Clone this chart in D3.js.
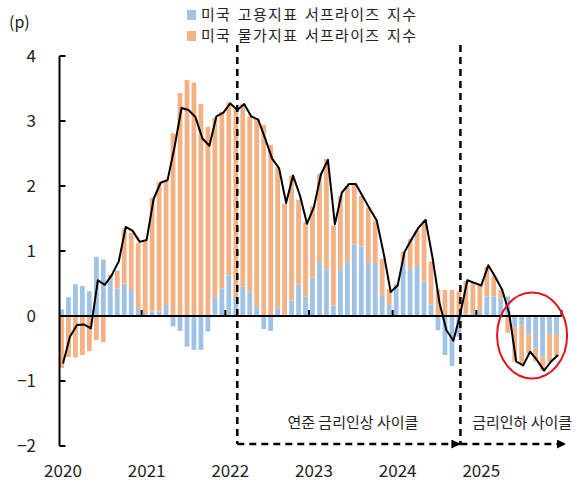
<!DOCTYPE html>
<html>
<head>
<meta charset="utf-8">
<script src="https://d3js.org/d3.v7.min.js"></script>
<style>
body { margin: 0; background: #fff; }
svg { font-family: 'Noto Sans CJK KR', 'Noto Sans', sans-serif; }
.axis-label { font-size: 17px; fill: #222; }
.legend-text { font-size: 15px; fill: #222; }
.note { font-size: 15px; fill: #222; }
</style>
</head>
<body>
<svg id="chart"></svg>
<script>
var width = 584,
    height = 491;

// monthly, Jan 2020 - Dec 2025
var startYear = 2020, endYear = 2025;
var years = [2020, 2021, 2022, 2023, 2024, 2025];
var yTicks = [4, 3, 2, 1, 0, -1, -2];

// 미국 고용지표 서프라이즈 지수
var employment = [
  0.10, 0.29, 0.49, 0.46, 0.38, 0.91, 0.87, 0.55, 0.42, 0.50, 0.40, 0.12,
  0.03, 0.07, 0.07, 0.17, -0.16, -0.23, -0.47, -0.52, -0.52, -0.24, 0.28, 0.42,
  0.62, 0.29, 0.45, 0.38, 0.14, -0.20, -0.23, 0.11, 0.02, 0.24, 0.48, 0.30,
  0.59, 0.83, 0.72, 0.16, 0.71, 0.83, 1.10, 1.07, 0.83, 0.80, 0.31, 0.17,
  0.46, 0.83, 0.71, 0.77, 0.53, 0.18, -0.22, -0.60, -0.77, -0.32, 0.04, 0.03,
  0.09, 0.30, 0.30, 0.27, 0.30, -0.18, -0.15, -0.28, -0.50, -0.62, -0.28, -0.28
];

// 미국 물가지표 서프라이즈 지수
var prices = [
  -0.80, -0.63, -0.64, -0.60, -0.54, -0.37, -0.40, 0.08, 0.28, 0.85, 0.88, 1.00,
  1.14, 1.75, 1.99, 1.92, 2.81, 3.43, 3.63, 3.59, 3.26, 2.91, 2.77, 2.72,
  2.67, 2.88, 2.81, 2.69, 2.90, 2.94, 2.63, 2.18, 1.71, 1.92, 1.31, 1.15,
  1.10, 1.36, 1.70, 1.23, 1.14, 1.17, 0.92, 0.78, 0.84, 0.67, 0.57, 0.24,
  0.03, 0.16, 0.47, 0.55, 0.94, 0.66, 0.41, 0.40, 0.40, 0.38, 0.50, 0.48,
  0.38, 0.46, 0.32, 0.13, -0.26, -0.52, -0.60, -0.30, -0.20, -0.22, -0.43, -0.33
];

// 합계 (black line)
var total = [
  -0.73, -0.32, -0.14, -0.13, -0.19, 0.55, 0.48, 0.63, 0.84, 1.37, 1.31, 1.14,
  1.17, 1.80, 2.05, 2.09, 2.60, 3.20, 3.17, 3.06, 2.73, 2.62, 3.07, 3.13,
  3.27, 3.17, 3.26, 3.07, 3.02, 2.73, 2.42, 2.27, 1.74, 2.16, 1.85, 1.42,
  1.68, 2.18, 2.40, 1.41, 1.90, 2.03, 2.03, 1.84, 1.65, 1.47, 0.96, 0.37,
  0.47, 0.99, 1.18, 1.36, 1.48, 0.90, 0.20, -0.22, -0.38, 0.04, 0.55, 0.51,
  0.47, 0.78, 0.60, 0.40, 0.04, -0.70, -0.76, -0.55, -0.68, -0.84, -0.70, -0.60
];

var seriesNames = ['미국 고용지표 서프라이즈 지수', '미국 물가지표 서프라이즈 지수'];
var colors = ['#9fc3e7', '#f4b183'];

// rate cycle markers (month index) and labels
var hikeStart = '2022-02', cutStart = '2024-10';
var cycleLabels = ['연준 금리인상 사이클', '금리인하 사이클'];

var months = d3.timeMonths(new Date(startYear, 0, 1), new Date(endYear + 1, 0, 1));
var fmt = d3.timeFormat('%Y-%m');
var rows = months.map(function(m, i) {
  return { month: fmt(m), emp: employment[i], price: prices[i], total: total[i] };
});

var plot = { left: 59.5, right: 561.5, top: 56, bottom: 446 };

var x = d3.scaleBand()
  .domain(rows.map(function(d) { return d.month; }))
  .range([plot.left, plot.right])
  .paddingInner(0.32)
  .paddingOuter(0.16);

var xMid = function(m) { return x(m) + x.bandwidth() / 2; };

var y = d3.scaleLinear()
  .domain([-2, 4])
  .range([plot.bottom, plot.top]);

var svg = d3.select('#chart')
  .attr('width', width)
  .attr('height', height);

// stacked bars, positives and negatives stacked apart
var stack = d3.stack()
  .keys(['emp', 'price'])
  .offset(d3.stackOffsetDiverging);
var layers = stack(rows);

svg.append('g')
  .selectAll('g')
  .data(layers)
  .enter().append('g')
    .attr('fill', function(d, i) { return colors[i]; })
  .selectAll('rect')
  .data(function(d) { return d; })
  .enter().append('rect')
    .attr('x', function(d) { return x(d.data.month) - 1.5; })
    .attr('width', x.bandwidth())
    .attr('y', function(d) { return y(Math.max(d[0], d[1])); })
    .attr('height', function(d) { return Math.abs(y(d[0]) - y(d[1])); });

// y axis
var yAxis = svg.append('g');
yAxis.append('line')
  .attr('x1', plot.left).attr('x2', plot.left)
  .attr('y1', y(4)).attr('y2', y(-2))
  .attr('stroke', '#000').attr('stroke-width', 2);
yAxis.selectAll('.ytick')
  .data(yTicks)
  .enter().append('line')
    .attr('x1', plot.left).attr('x2', plot.left + 6)
    .attr('y1', function(d) { return y(d); })
    .attr('y2', function(d) { return y(d); })
    .attr('stroke', '#000').attr('stroke-width', 2);
yAxis.selectAll('text')
  .data(yTicks)
  .enter().append('text')
    .attr('class', 'axis-label')
    .attr('x', 36)
    .attr('y', function(d) { return y(d); })
    .attr('dy', '0.35em')
    .attr('text-anchor', 'end')
    .text(function(d) { return d < 0 ? '\u2212' + Math.abs(d) : d; });

svg.append('text')
  .attr('class', 'legend-text')
  .attr('x', 9).attr('y', 28)
  .style('font-size', '16px')
  .text('(p)');

// x axis at zero
var xAxis = svg.append('g');
xAxis.append('line')
  .attr('x1', plot.left).attr('x2', plot.right)
  .attr('y1', y(0)).attr('y2', y(0))
  .attr('stroke', '#000').attr('stroke-width', 2);
var yearEdges = years.map(function(yr) { return yr + '-01'; });
xAxis.selectAll('.xtick')
  .data(yearEdges.slice(1).map(function(m) { return x(m) - x.step() * x.paddingInner() / 2 - 1.5; }).concat([plot.right]))
  .enter().append('line')
    .attr('x1', function(d) { return d; }).attr('x2', function(d) { return d; })
    .attr('y1', y(0)).attr('y2', y(0) - 6)
    .attr('stroke', '#000').attr('stroke-width', 2);
xAxis.selectAll('text')
  .data(years)
  .enter().append('text')
    .attr('class', 'axis-label')
    .attr('x', function(d) { return xMid(d + '-01'); })
    .attr('y', 471)
    .attr('dy', '0.35em')
    .attr('text-anchor', 'middle')
    .text(function(d) { return d; });

// total line
var line = d3.line()
  .x(function(d) { return xMid(d.month); })
  .y(function(d) { return y(d.total); });

svg.append('path')
  .datum(rows)
  .attr('d', line)
  .attr('fill', 'none')
  .attr('stroke', '#000')
  .attr('stroke-width', 2)
  .attr('stroke-linejoin', 'round');

// rate cycle dashed lines
var defs = svg.append('defs');
defs.append('marker')
  .attr('id', 'arrow')
  .attr('viewBox', '0 0 10 10')
  .attr('refX', 10).attr('refY', 5)
  .attr('markerWidth', 11).attr('markerHeight', 9)
  .attr('markerUnits', 'userSpaceOnUse')
  .attr('orient', 'auto')
  .append('path')
    .attr('d', 'M0,0L10,5L0,10Z')
    .attr('fill', '#000');

var hx = xMid(hikeStart), cx = xMid(cutStart);
var arrowY = 444;
var dash = '7,5';

svg.selectAll('.cycle-v')
  .data([hx, cx])
  .enter().append('line')
    .attr('x1', function(d) { return d; }).attr('x2', function(d) { return d; })
    .attr('y1', 45).attr('y2', arrowY)
    .attr('stroke', '#000').attr('stroke-width', 2.5)
    .attr('stroke-dasharray', dash);

svg.selectAll('.cycle-h')
  .data([[hx, cx], [cx, 566]])
  .enter().append('line')
    .attr('x1', function(d) { return d[0]; }).attr('x2', function(d) { return d[1]; })
    .attr('y1', arrowY).attr('y2', arrowY)
    .attr('stroke', '#000').attr('stroke-width', 2.5)
    .attr('stroke-dasharray', dash)
    .attr('marker-end', 'url(#arrow)');

svg.selectAll('.cycle-label')
  .data([[(hx + cx) / 2 + 4, cycleLabels[0]], [(cx + 584) / 2, cycleLabels[1]]])
  .enter().append('text')
    .attr('class', 'note')
    .attr('x', function(d) { return d[0]; })
    .attr('y', 423)
    .attr('dy', '0.35em')
    .attr('text-anchor', 'middle')
    .text(function(d) { return d[1]; });

// red circle around recent months
svg.append('ellipse')
  .attr('cx', xMid('2025-09') - 5)
  .attr('cy', y(-0.3))
  .attr('rx', 35)
  .attr('ry', 43)
  .attr('fill', 'none')
  .attr('stroke', '#e0141e')
  .attr('stroke-width', 2);

// legend
var legend = svg.append('g')
  .selectAll('g')
  .data(seriesNames)
  .enter().append('g')
    .attr('transform', function(d, i) { return 'translate(187,' + (15 + i * 21) + ')'; });
legend.append('rect')
  .attr('x', 0).attr('y', -5)
  .attr('width', 9).attr('height', 10)
  .attr('fill', function(d, i) { return colors[i]; });
legend.append('text')
  .attr('class', 'legend-text')
  .attr('x', 14)
  .attr('dy', '0.35em')
  .style('letter-spacing', '1.3px')
  .style('word-spacing', '2px')
  .text(function(d) { return d; });
</script>
</body>
</html>
